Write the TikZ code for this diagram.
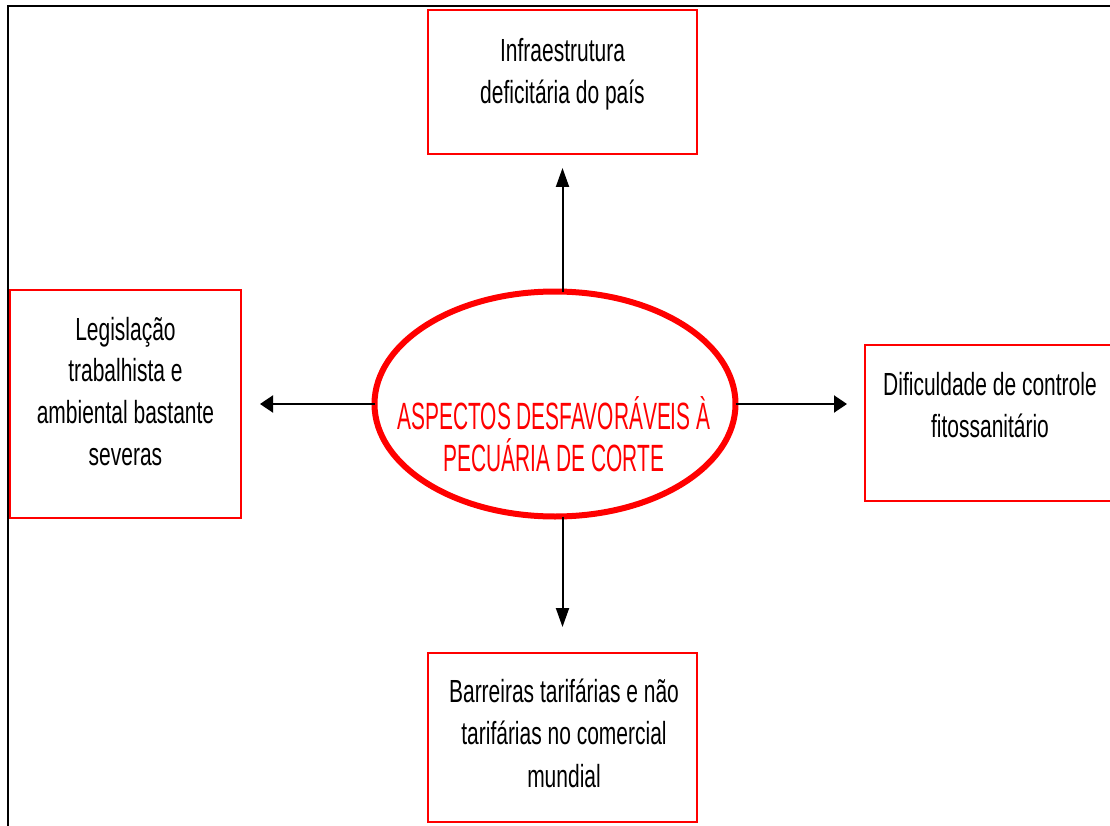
\documentclass[tikz,border=0pt]{standalone}
\usepackage{fontspec}
\usetikzlibrary{arrows.meta,shapes.geometric,calc}
\newfontfamily\blkfont[FakeStretch=0.656]{Liberation Sans}
\newfontfamily\redfont[FakeStretch=0.55]{Liberation Sans}
\definecolor{boxred}{RGB}{255,0,0}
\begin{document}
\begin{tikzpicture}[x=1pt,y=-1pt,
  redbox/.style={draw=boxred, line width=2.9pt, rectangle, inner sep=0pt, outer sep=0pt},
  arr/.style={draw=black, line width=2pt},
  harr/.style={arr, -{Triangle[length=13pt,width=17pt]}},
  varr/.style={arr, -{Triangle[length=19pt,width=13pt]}},
  lbl/.style={anchor=base, inner sep=0pt, outer sep=0pt}]
\useasboundingbox (0,0) rectangle (1110,826);
\fill[white] (0,0) rectangle (1110,826);
\draw[line width=2.2pt] (8,830) -- (8,6) -- (1115,6);
% boxes
\node[redbox, minimum width=269pt, minimum height=144pt] (top) at (562.5,82) {};
\node[redbox, minimum width=231pt, minimum height=228pt] (left) at (125.5,404) {};
\node[redbox, minimum width=250pt, minimum height=156pt] (right) at (990,423) {};
\node[redbox, minimum width=269pt, minimum height=169pt] (bot) at (562.5,737.5) {};
% ellipse
\node[ellipse, draw=boxred, line width=6pt, minimum width=361pt, minimum height=225pt, inner sep=0pt, outer sep=0pt] (ell) at (555,404) {};
% texts
\node[lbl] (etext) at (554,397) {\parbox[t]{340pt}{\centering\color{boxred}\redfont\fontsize{38}{42}\selectfont ASPECTOS DESFAVORÁVEIS À\\ PECUÁRIA DE CORTE}};
\node[lbl] (ttop) at (562.5,62) {\parbox[t]{260pt}{\centering\blkfont\fontsize{32}{42}\selectfont Infraestrutura\\ deficitária do país}};
\node[lbl] (tleft) at (125.5,340) {\parbox[t]{230pt}{\centering\blkfont\fontsize{32}{41.7}\selectfont Legislação\\ trabalhista e\\ ambiental bastante\\ severas}};
\node[lbl] (tright) at (990,395) {\parbox[t]{250pt}{\centering\blkfont\fontsize{32}{42}\selectfont Dificuldade de controle\\ fitossanitário}};
\node[lbl] (tbot) at (564,702) {\parbox[t]{260pt}{\centering\blkfont\fontsize{32}{42.5}\selectfont Barreiras tarifárias e não\\ tarifárias no comercial\\ mundial}};
% arrows
\draw[varr, shorten >=14pt] (top.south |- ell.north) -- (top.south);
\draw[varr, shorten >=26pt] (bot.north |- ell.south) -- (bot.north);
\draw[harr, shorten >=19pt] (ell.west) -- (ell.west -| left.east);
\draw[harr, shorten >=18pt] (ell.east) -- (ell.east -| right.west);
\end{tikzpicture}
\end{document}
